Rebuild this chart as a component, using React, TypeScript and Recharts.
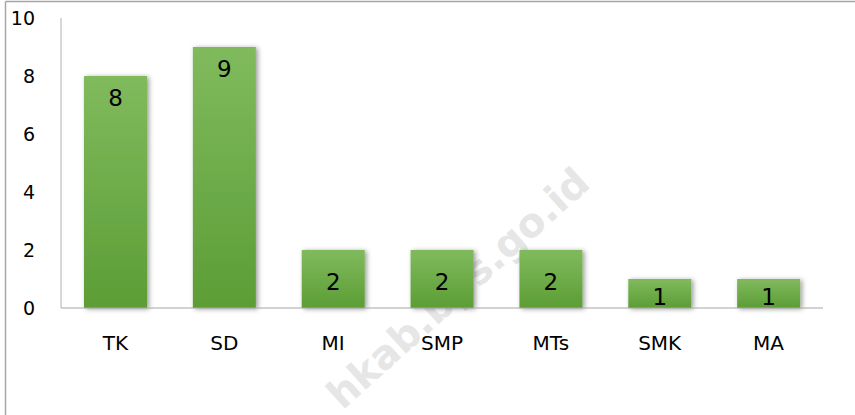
import React from "react";
import { BarChart, Bar, XAxis, YAxis, LabelList } from "recharts";

const categories = ["TK", "SD", "MI", "SMP", "MTs", "SMK", "MA"];
const counts = [8, 9, 2, 2, 2, 1, 1];
const yTicks = [0, 2, 4, 6, 8, 10];
const watermark = "hkab.bps.go.id";

const data = categories.map((name, i) => ({ name, value: counts[i] }));

const FONT = "'DejaVu Sans', sans-serif";

const renderLabel = (props: any) => {
  const { x, y, width, height, value } = props;
  const cy = height > 100 ? y + 22 : y + height / 2 + 3;
  return (
    <text
      x={x + width / 2}
      y={cy}
      textAnchor="middle"
      dominantBaseline="central"
      fontFamily={FONT}
      fontSize={23}
      fill="#000"
    >
      {value}
    </text>
  );
};

export default function App() {
  return (
    <div style={{ position: "absolute", left: 0, top: 0, width: 855, height: 415, background: "#fff", overflow: "hidden" }}>
      <svg width={855} height={415} style={{ position: "absolute", left: 0, top: 0 }}>
        <defs>
          <linearGradient id="barGrad" x1="0" y1="0" x2="0" y2="1">
            <stop offset="0%" stopColor="#80ba5d" />
            <stop offset="100%" stopColor="#5c9d35" />
          </linearGradient>
          <filter id="barShadow" x="-20%" y="-20%" width="140%" height="140%">
            <feDropShadow dx="2" dy="1" stdDeviation="2.5" floodColor="#000" floodOpacity="0.4" />
          </filter>
        </defs>
        <line x1={5.5} y1={1.5} x2={855} y2={1.5} stroke="#a6a6a6" strokeWidth={1.5} />
        <line x1={5.5} y1={1.5} x2={5.5} y2={415} stroke="#a6a6a6" strokeWidth={1.5} />
        <text
          x={592}
          y={186}
          textAnchor="end"
          transform="rotate(-42 592 186)"
          fontFamily={FONT}
          fontWeight="bold"
          fontSize={40}
          fill="#e6e6e6"
        >
          {watermark}
        </text>
      </svg>
      <div style={{ position: "absolute", left: 0, top: 0 }}>
        <BarChart
          width={855}
          height={415}
          data={data}
          margin={{ top: 18, right: 32, left: 0, bottom: 67 }}
        >
          <XAxis
            dataKey="name"
            height={40}
            tickSize={0}
            tickMargin={28}
            axisLine={{ stroke: "#a6a6a6", strokeWidth: 1.2 }}
            tick={{ fontFamily: FONT, fontSize: 20, fill: "#000" }}
            interval={0}
          />
          <YAxis
            width={61}
            domain={[0, 10]}
            ticks={yTicks}
            tickSize={0}
            tickMargin={26}
            axisLine={{ stroke: "#b0b0b0", strokeWidth: 1 }}
            tick={{ fontFamily: FONT, fontSize: 19, fill: "#000" }}
          />
          <Bar
            dataKey="value"
            barSize={63}
            fill="url(#barGrad)"
            filter="url(#barShadow)"
            isAnimationActive={false}
          >
            <LabelList dataKey="value" content={renderLabel} />
          </Bar>
        </BarChart>
      </div>
    </div>
  );
}
